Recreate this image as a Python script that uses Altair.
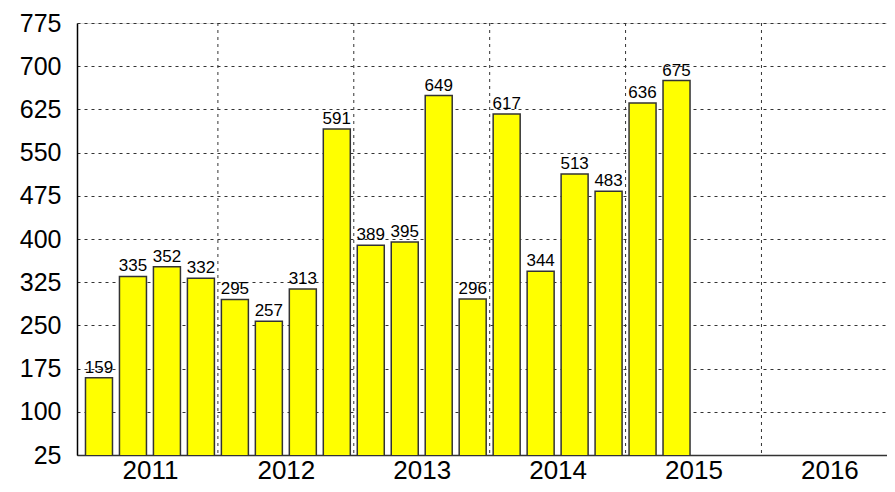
import altair as alt
import pandas as pd

# Quarterly values (2011 Q1 .. 2015 Q2)
years = [2011]*4 + [2012]*4 + [2013]*4 + [2014]*4 + [2015]*2
quarters = [1, 2, 3, 4]*4 + [1, 2]
values = [159, 335, 352, 332, 295, 257, 313, 591, 389, 395, 649, 296,
          617, 344, 513, 483, 636, 675]

year_ticks = [2011, 2012, 2013, 2014, 2015, 2016]
boundaries = [2012, 2013, 2014, 2015, 2016]
y_ticks = list(range(25, 776, 75))

df = pd.DataFrame({"year": years, "quarter": quarters, "value": values})
df["t"] = df["year"] + (df["quarter"] - 0.5) / 4
bdf = pd.DataFrame({"b": boundaries})

FONT = "Liberation Sans"
xdom = [2011, 2016.887]

x_scale = alt.Scale(domain=xdom, nice=False, zero=False)
y_scale = alt.Scale(domain=[25, 775], nice=False, zero=False)

vgrid = alt.Chart(bdf).mark_rule(color="#333333", strokeWidth=1, strokeDash=[3, 4]).encode(
    x=alt.X("b:Q", scale=x_scale),
)

bars = alt.Chart(df).mark_bar(size=27, color="#FFFF00", stroke="#333333",
                               strokeWidth=1.5, clip=True).encode(
    x=alt.X("t:Q", scale=x_scale,
            axis=alt.Axis(values=[y + 0.5 for y in year_ticks],
                          labelExpr="floor(datum.value)",
                          grid=False, ticks=False, title=None,
                          labelFontSize=26, labelFont=FONT, labelColor="black",
                          labelBaseline="alphabetic",
                          labelPadding=23, domainColor="#333333", domainWidth=1.5)),
    y=alt.Y("value:Q", scale=y_scale,
            axis=alt.Axis(values=y_ticks, title=None, ticks=False,
                          labelFontSize=25, labelFont=FONT, labelColor="black",
                          labelPadding=16, domainColor="black", domainWidth=1.5,
                          grid=True, gridColor="#333333", gridDash=[3, 4],
                          gridWidth=1, gridOpacity=1)),
    y2=alt.value("height"),
)

labels = alt.Chart(df).mark_text(baseline="alphabetic", dy=-5, fontSize=17, font=FONT,
                                  color="black").encode(
    x=alt.X("t:Q", scale=x_scale),
    y=alt.Y("value:Q", scale=y_scale),
    text=alt.Text("value:Q"),
)

chart = alt.layer(vgrid, bars, labels).properties(
    width=810, height=432,
    padding={"left": 69, "top": 15, "right": 0, "bottom": 29},
    autosize=alt.AutoSizeParams(type="none"),
).configure_view(stroke="#555555", strokeWidth=1).configure(background="white")

chart.save("out.html", embed_options={"renderer": "svg", "actions": False})
